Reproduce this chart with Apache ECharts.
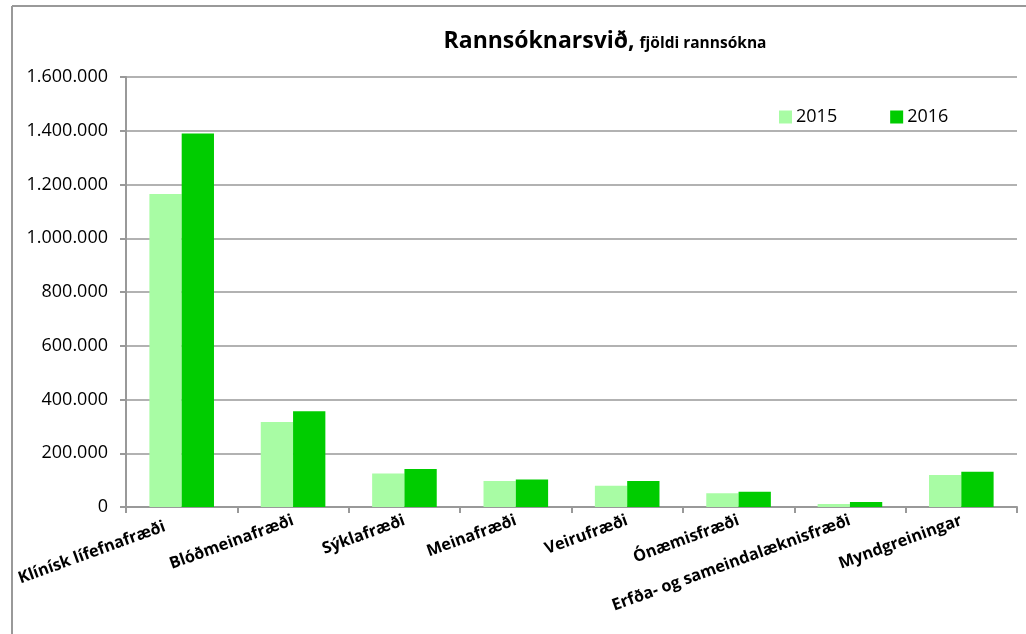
<!DOCTYPE html>
<html>
<head>
<meta charset="utf-8">
<script src="https://cdn.jsdelivr.net/npm/echarts@6/dist/echarts.min.js"></script>
<style>
html,body{margin:0;padding:0;background:#fff;}
#c{width:1026px;height:634px;}
</style>
</head>
<body>
<div id="c"></div>
<script>
const categories = ["Klínísk lífefnafræði","Blóðmeinafræði","Sýklafræði","Meinafræði","Veirufræði","Ónæmisfræði","Erfða- og sameindalæknisfræði","Myndgreiningar"];
const values2015 = [1165000, 316000, 125000, 97000, 79000, 51000, 11000, 119000];
const values2016 = [1390000, 356000, 141000, 102000, 97000, 57000, 19000, 131000];
const seriesNames = ["2015", "2016"];
const yTicks = {min: 0, max: 1600000, interval: 200000};

const FONT = "'Open Sans', sans-serif";
const chart = echarts.init(document.getElementById('c'), null, {renderer: 'canvas'});
function fmt(v){ return String(v).replace(/\B(?=(\d{3})+(?!\d))/g, '.'); }
const catData = categories.map((c, i) => i === 0 ? {value: c, textStyle: {padding: [0, 18, 0, 0]}} : c);
chart.setOption({
  animation: false,
  backgroundColor: '#fff',
  title: {
    text: '{a|Rannsóknarsvið,} {b|fjöldi rannsókna}',
    left: 600, top: 25, textAlign: 'center',
    textStyle: {
      rich: {
        a: {fontFamily: FONT, fontWeight: 'bold', fontSize: 23, color: '#000'},
        b: {fontFamily: FONT, fontWeight: 'bold', fontSize: 15.5, color: '#000', padding: [5,0,0,0]}
      }
    }
  },
  legend: {
    left: 774, top: 103, itemWidth: 13, itemHeight: 13, itemGap: 53,
    icon: 'rect',
    textStyle: {fontFamily: FONT, fontSize: 18, color: '#000', padding: [0,0,0,-1]},
    data: seriesNames
  },
  grid: {left: 126, right: 9, top: 77, bottom: 127, containLabel: false},
  xAxis: {
    type: 'category', data: catData,
    axisLine: {lineStyle: {color: '#999', width: 2}},
    axisTick: {show: true, length: 6, lineStyle: {color: '#999', width: 2}},
    axisLabel: {rotate: 20, interval: 0, fontFamily: FONT, fontWeight: 'bold', fontSize: 16.3, color: '#000', margin: 13}
  },
  yAxis: {
    type: 'value', min: yTicks.min, max: yTicks.max, interval: yTicks.interval,
    axisLine: {show: true, lineStyle: {color: '#999', width: 2}},
    axisTick: {show: true, length: 6, lineStyle: {color: '#999', width: 2}},
    splitLine: {lineStyle: {color: '#999', width: 1.5}},
    axisLabel: {formatter: fmt, fontFamily: FONT, fontSize: 18, color: '#000', margin: 18}
  },
  series: [
    {name: seriesNames[0], type: 'bar', data: values2015, barGap: '0%', barCategoryGap: '42%', itemStyle: {color: '#A8FCA4'}},
    {name: seriesNames[1], type: 'bar', data: values2016, barGap: '0%', barCategoryGap: '42%', itemStyle: {color: '#00CC00'}}
  ],
  graphic: [
    {type: 'line', shape: {x1: 12, y1: 6, x2: 1026, y2: 6}, style: {stroke: '#999', lineWidth: 2}},
    {type: 'line', shape: {x1: 12, y1: 6, x2: 12, y2: 634}, style: {stroke: '#999', lineWidth: 2}}
  ]
});
</script>
</body>
</html>
